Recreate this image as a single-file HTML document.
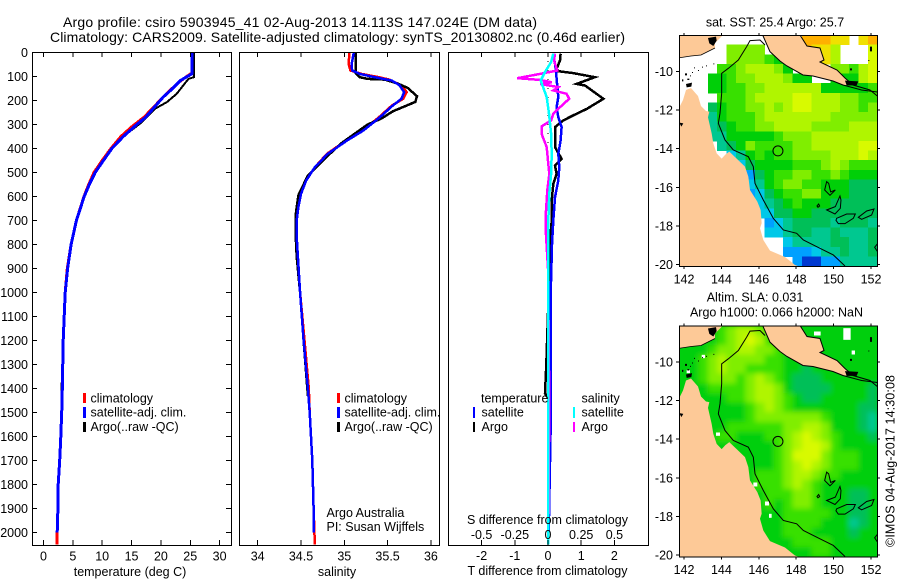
<!DOCTYPE html>
<html>
<head>
<meta charset="utf-8">
<title>Argo profile</title>
<style>
html,body{margin:0;padding:0;background:#fff;}
#chart{display:block;}
text{font-family:"Liberation Sans",sans-serif;font-size:12.5px;fill:#000;}
.title{font-size:14px;}
.frame{fill:none;stroke:#000;stroke-width:1;shape-rendering:crispEdges;}
.tick{stroke:#000;stroke-width:1;shape-rendering:crispEdges;}
.prof{fill:none;stroke-linejoin:miter;shape-rendering:crispEdges;}
</style>
</head>
<body>
<svg id="chart" xmlns="http://www.w3.org/2000/svg" width="900" height="580" viewBox="0 0 900 580">
<defs>
<clipPath id="clip-p1"><rect x="32" y="52" width="199" height="493"/></clipPath>
<clipPath id="clip-p2"><rect x="239" y="52" width="200" height="493"/></clipPath>
<clipPath id="clip-p3"><rect x="448" y="52" width="200" height="493"/></clipPath>
<clipPath id="clip-m1"><rect x="679.5" y="35" width="198" height="231"/></clipPath>
<clipPath id="clip-m2"><rect x="679.5" y="325.5" width="198" height="231"/></clipPath>
<filter id="soft" x="-5%" y="-5%" width="110%" height="110%"><feGaussianBlur stdDeviation="2.6"/></filter>
<g id="geo">
  <path d="M24,75 L159,75 L135,99 L135,114 L93,135 L63,138 L24,144 Z" fill="#fdc997"/>
  <path d="M24,300 L39,270 L48,240 L63,234 L84,258 L93,288 L108,303 L118,305 L114,322 L125,370 L130,400 L140,430 L155,446 L166,434 L178,425 L200,446 L225,470 L235,500 L240,540 L262,575 L272,600 L275,640 L270,655 L280,690 L300,722 L345,741 L375,765 L395,772 L24,772 Z" fill="#fdc997"/>
  <path d="M278,75 L390,75 L411,108 L450,114 L462,150 L450,156 L501,180 L525,204 L549,225 L519,225 L489,213 L429,198 L399,195 L351,168 L330,153 L300,125 Z" fill="#fdc997"/>
  <path d="M278,75 L300,125 L330,153 L351,168 L399,195 L429,198 L489,213 L519,225 L575,240 L622,246" fill="none" stroke="#000" stroke-width="3"/>
  <path d="M390,75 L411,108 L450,114 L462,150 L450,156 L501,180 L525,204 L549,225 L600,240 L622,258" fill="none" stroke="#000" stroke-width="3"/>
  <path d="M24,144 L63,138 L93,135 L135,114" fill="none" stroke="#000" stroke-width="2.5"/>
  <path d="M230,110 L205,150 L175,175 L155,190 L155,250 L150,310 L145,340 L165,390 L190,420 L235,440 L250,470 L255,520 L280,570 L310,625 L340,660 L380,670 L400,690 L450,715 L490,735 L525,768" fill="none" stroke="#000" stroke-width="3"/>
  <path d="M230,110 L240,92 L270,90 L285,105" fill="none" stroke="#000" stroke-width="3"/>
  <path d="M470,515 L464,540 L480,556 L496,540 L482,546 L476,520 Z M510,558 L496,590 L470,600 L495,612 L511,595 L513,570 Z M500,625 L530,612 L556,612 L550,625 L525,641 L505,641 L498,631 Z M565,622 L590,603 L612,597 L605,615 L575,628 Z M441,588 L446,582 L449,588 L444,592 Z M622,702 L614,712 L622,724" fill="none" stroke="#000" stroke-width="3"/>
  <path d="M114,84 L138,80 L140,92 L130,108 L118,100 Z M48,222 L66,218 L64,230 L50,232 Z M28,338 L40,340 L34,350 Z M525,212 L565,214 L560,226 L530,226 Z" fill="#000"/>
  <path d="M45,190 h6 v6 h-6 Z M60,196 h3 v3 h-3 Z M72,172 h3 v3 h-3 Z M84,180 h3 v3 h-3 Z M96,170 h3 v3 h-3 Z M108,166 h3 v3 h-3 Z M130,160 h3 v3 h-3 Z M52,206 h6 v4 h-6 Z M66,186 h3 v3 h-3 Z M36,208 h4 v6 h-4 Z M600,110 h6 v14 h-6 Z M540,175 h6 v6 h-6 Z M595,150 h3 v3 h-3 Z" fill="#000"/>
</g>
<g id="sla-patches" fill="#fff">
  <rect x="432" y="93" width="20" height="12"/><rect x="520" y="83" width="22" height="35"/>
  <rect x="95" y="163" width="10" height="10"/><rect x="250" y="546" width="12" height="12"/>
  <rect x="285" y="603" width="12" height="12"/><rect x="297" y="640" width="8" height="12"/>
  <rect x="138" y="396" width="12" height="10"/><rect x="50" y="208" width="10" height="10"/>
  <rect x="545" y="150" width="10" height="12"/>
</g>
</defs>
<rect x="0" y="0" width="900" height="580" fill="#fff"/>
<text class="title" x="63" y="27" textLength="474" lengthAdjust="spacing">Argo profile: csiro 5903945_41 02-Aug-2013 14.113S 147.024E (DM data)</text>
<text class="title" x="50" y="42" textLength="575" lengthAdjust="spacing">Climatology: CARS2009. Satellite-adjusted climatology: synTS_20130802.nc (0.46d earlier)</text>

<g id="panel-temp"></g>
<g id="panel-sal"></g>
<g id="panel-diff"></g>

<text x="130" y="576" text-anchor="middle">temperature (deg C)</text>
<text x="337" y="576" text-anchor="middle">salinity</text>
<text x="547.5" y="575" text-anchor="middle">T difference from climatology</text>
<text x="547.5" y="524" text-anchor="middle">S difference from climatology</text>

<g>
  <rect x="83" y="393" width="3" height="10" fill="#f00"/><text x="90.5" y="402.5">climatology</text>
  <rect x="83" y="407" width="3" height="11" fill="#00f"/><text x="90.5" y="416.5">satellite-adj. clim.</text>
  <rect x="83" y="422" width="3" height="10" fill="#000"/><text x="90.5" y="431">Argo(..raw -QC)</text>
</g>
<g>
  <rect x="337" y="393" width="3" height="10" fill="#f00"/><text x="344.5" y="402.5">climatology</text>
  <rect x="337" y="407" width="3" height="11" fill="#00f"/><text x="344.5" y="416.5">satellite-adj. clim.</text>
  <rect x="337" y="422" width="3" height="10" fill="#000"/><text x="344.5" y="431">Argo(..raw -QC)</text>
</g>
<g>
  <text x="326.5" y="517">Argo Australia</text>
  <text x="326.5" y="531">PI: Susan Wijffels</text>
</g>
<g>
  <text x="481" y="402.5">temperature</text>
  <rect x="473" y="407" width="2" height="11" fill="#00f"/><text x="481.5" y="416.5">satellite</text>
  <rect x="473" y="422" width="2" height="10" fill="#000"/><text x="481.5" y="431">Argo</text>
  <text x="581.5" y="402.5">salinity</text>
  <rect x="573" y="407" width="2" height="11" fill="#0ff"/><text x="581.5" y="416.5">satellite</text>
  <rect x="573" y="422" width="2" height="10" fill="#f0f"/><text x="581.5" y="431">Argo</text>
</g>

<g id="map-sst"></g>
<g id="map-sla"></g>

<text x="775" y="26.5" text-anchor="middle">sat. SST: 25.4  Argo: 25.7</text>
<text x="755" y="301.5" text-anchor="middle">Altim. SLA: 0.031</text>
<text x="776.5" y="316.5" text-anchor="middle">Argo h1000: 0.066 h2000: NaN</text>
<text transform="translate(894.5,547) rotate(-90)" textLength="172" lengthAdjust="spacing">©IMOS 04-Aug-2017 14:30:08</text>
</svg>

<script>
// ---- axis tick labels ----
const depthTicks = [0,100,200,300,400,500,600,700,800,900,1000,1100,1200,1300,1400,1500,1600,1700,1800,1900,2000];
const tempTicks = [0,5,10,15,20,25,30];
const salTicks = [34,34.5,35,35.5,36];
const salTickLabels = ['34','34.5','35','35.5','36'];
const tDiffTicks = [-2,-1,0,1,2];
const tDiffLabels = ['-2','-1','0','1','2'];
const sDiffTicks = [-0.5,-0.25,0,0.25,0.5];
const sDiffLabels = ['-0.5','-0.25','0','0.25','0.5'];
const lonTicks = [142,144,146,148,150,152];
const latTicks = [-10,-12,-14,-16,-18,-20];

// ---- temperature profiles ----
const tempClimDepth = [0,85,117,150,190,230,270,310,350,400,450,500,550,600,700,800,900,1000,1200,1400,1500,1600,1700,1800,1900,2000,2050];
const tempClim = [25.3,25.3,23.4,21.9,20.2,18.7,17.1,15.0,13.2,11.5,10.0,8.6,7.7,6.9,5.6,4.7,4.05,3.7,3.35,3.2,3.1,2.95,2.76,2.5,2.45,2.33,2.3];
const tempSatDepth = [0,88,117,150,186,230,270,300,350,400,450,500,550,600,700,800,900,1000,1200,1400,1500,1600,1700,1800,1900,2000];
const tempSat = [25.33,25.33,23.3,22.0,20.4,18.8,17.4,15.9,13.6,11.65,10.2,8.8,7.8,6.93,5.6,4.7,4.1,3.7,3.35,3.2,3.1,2.95,2.76,2.5,2.45,2.33];
const tempArgoDepth = [0,103,110,128,172,207,234,270,295,350,400,450,500,600,700,800,900,1000,1200,1430];
const tempArgo = [25.6,25.6,24.7,24.1,22.7,21.0,19.0,17.6,16.5,13.6,11.7,10.2,8.8,6.95,5.6,4.7,4.1,3.7,3.3,3.05];

// ---- salinity profiles ----
const salClimDepth = [0,47,75,89,103,113,137,165,193,221,270,325,367,422,478,533,589,644,700,770,1000,1200,1400,1500,1700,1900,2000,2050];
const salClim = [35.06,35.05,35.07,35.2,35.4,35.52,35.66,35.72,35.68,35.55,35.4,35.21,35.02,34.8,34.66,34.56,34.5,34.47,34.45,34.45,34.49,34.54,34.59,34.6,34.63,34.645,34.655,34.66];
const salSatDepth = [0,47,75,89,103,117,137,165,193,221,270,325,367,422,478,533,589,644,700,770,1000,1200,1400,1500,1700,1900,2000];
const salSat = [35.11,35.085,35.09,35.18,35.35,35.55,35.64,35.69,35.66,35.56,35.41,35.22,35.03,34.81,34.66,34.56,34.5,34.47,34.45,34.45,34.49,34.53,34.58,34.6,34.63,34.645,34.65];
const salArgoDepth = [0,85,103,110,113,130,147,182,206,224,245,275,300,328,377,440,512,595,672,770,850,1000,1200,1430];
const salArgo = [35.13,35.13,35.18,35.27,35.47,35.62,35.73,35.84,35.82,35.7,35.56,35.43,35.27,35.16,34.97,34.78,34.58,34.47,34.44,34.44,34.45,34.49,34.53,34.58];

// ---- difference profiles ----
const diffTArgoDepth = [5,33,68,78,86,103,131,138,193,235,262,283,311,353,394,443,471,506,547,617,700,800,1000,1300,1420,1440,2050];
const diffTArgo = [0.38,0.36,0.26,0.31,0.76,1.41,0.86,1.12,1.67,1.17,0.76,0.46,0.21,0.21,0.21,0.41,0.21,0.26,0.16,0.11,0.11,0.05,0.02,-0.05,-0.09,0,0];
const diffTSatDepth = [5,47,75,110,186,228,269,311,367,422,478,533,603,700,800,1000,1400,1550,2000];
const diffTSat = [0.16,0.21,0.24,0.26,0.31,0.26,0.31,0.41,0.38,0.31,0.34,0.31,0.21,0.16,0.12,0.08,0.08,0.08,0.02];
const diffSArgoDepth = [5,33,75,89,107,114,124,131,144,158,172,193,228,255,283,308,339,394,464,506,575,686,760,900,1450,2050];
const diffSArgo = [0.053,0.045,0.07,-0.06,-0.231,-0.06,0.028,-0.06,0.078,0.04,0.14,0.16,0.09,0.04,0.023,-0.048,-0.048,-0.01,0.002,0.01,-0.005,-0.018,-0.015,0,0.01,0.002];
const diffSSatDepth = [5,40,82,117,186,255,338,422,506,589,700,1000,2050];
const diffSSat = [0.04,0.023,-0.023,-0.055,-0.01,0.0075,0.023,0.028,0.023,0.01,0.002,0.002,0.002];

// ---- map grids: 0.5 degree cells, north to south; '.' = no data ----
const sstRows = [
".............bbbaa.ab",
".....7777....baa8...9",
".....777765...aa8...9",
"....66788875....77689",
"...55677888755..55589",
"...556677888888555556",
"....66678888998887766",
"...456677878998887767",
"...356667888888877777",
"...345667788887777888",
"...335555567778888888",
"....34576666778888899",
".....2356566777788898",
"......245555666787666",
".......14566776676555",
".......23567766555444",
".......12456677555444",
"........2345655544444",
"........2244554444444",
".........123444434443",
".........223443343334",
"...........2333344334",
"...........1112334334",
"............100113333"
];
const slaRows = [
"555567887555555555555",
"555567898655555555555",
"555677887765555555555",
"556787777665555555555",
"556787766665545555555",
"556777678765444555555",
"555666678875444455554",
"555556678876544555554",
"555555567876555555544",
"555555567777777655543",
"555556666667788755543",
"555566555667898765554",
"555555555567899865555",
"555555555567999766655",
"555555555567898766655",
"555555556667887665555",
"555555556667876555555",
"555555555666776555445",
"555555555656776555445",
"555555555556666655445",
"555555555556666555345",
"555555555556665555455",
"555555555555666655555",
"555555555555556655555"
];
const argoLon = [147.024];
const argoLat = [-14.113];

// ---- axis functions ----
const NS = 'http://www.w3.org/2000/svg';
const yDepth = d => 52.5 + d * 0.24;
const xTemp = v => 43.5 + v * 5.87;
const xSal = v => 257.7 + (v - 34) * 86.6;
const xDiffT = v => 548 + v * 33.2;
const xDiffS = v => 548 + v * 132.8;
const xLon = v => 684 + (v - 142) * 18.7;
const yLat1 = v => 71.5 + (-10 - v) * 19.3;
const yLat2 = v => 362 + (-10 - v) * 19.3;

function mk(tag, parent, attrs) {
  const el = document.createElementNS(NS, tag);
  for (const k in attrs) el.setAttribute(k, attrs[k]);
  parent.appendChild(el);
  return el;
}
function label(parent, x, y, txt, anchor, name) {
  const t = mk('text', parent, {x: x, y: y, 'text-anchor': anchor});
  t.textContent = txt;
  
  
  return t;
}
function tick(parent, x1, y1, x2, y2) {
  const l = mk('line', parent, {x1: x1, y1: y1, x2: x2, y2: y2, class: 'tick'});
  
  
}
function frame(parent, x, y, w, h) {
  const r = mk('rect', parent, {x: x + 0.5, y: y + 0.5, width: w, height: h, class: 'frame'});
  
  
}
function profile(parent, clip, name, depths, vals, xf, color, width) {
  const pts = depths.map((d, i) => xf(vals[i]).toFixed(1) + ',' + yDepth(d).toFixed(1)).join(' ');
  const p = mk('polyline', parent, {points: pts, class: 'prof', stroke: color, 'stroke-width': width, 'clip-path': 'url(#' + clip + ')'});
  
  
}

// ---- temperature panel ----
const g1 = document.getElementById('panel-temp');
profile(g1, 'clip-p1', 'temperature-climatology-line', tempClimDepth, tempClim, xTemp, '#f00', 3);
profile(g1, 'clip-p1', 'temperature-argo-line', tempArgoDepth, tempArgo, xTemp, '#000', 2);
profile(g1, 'clip-p1', 'temperature-satellite-line', tempSatDepth, tempSat, xTemp, '#00f', 3);
frame(g1, 32, 52, 199, 493);
depthTicks.forEach(d => {
  tick(g1, 32, yDepth(d), 37, yDepth(d));
  tick(g1, 226, yDepth(d), 231, yDepth(d));
  label(g1, 28, yDepth(d) + 4.5, String(d), 'end', 'depth-tick-label');
});
tempTicks.forEach(v => {
  tick(g1, xTemp(v), 52, xTemp(v), 57);
  tick(g1, xTemp(v), 540, xTemp(v), 545);
  label(g1, xTemp(v), 560.5, String(v), 'middle', 'temperature-tick-label');
});

// ---- salinity panel ----
const g2 = document.getElementById('panel-sal');
profile(g2, 'clip-p2', 'salinity-climatology-line', salClimDepth, salClim, xSal, '#f00', 2.5);
profile(g2, 'clip-p2', 'salinity-argo-line', salArgoDepth, salArgo, xSal, '#000', 2.5);
profile(g2, 'clip-p2', 'salinity-satellite-line', salSatDepth, salSat, xSal, '#00f', 2.5);
frame(g2, 239, 52, 200, 493);
salTicks.forEach((v, i) => {
  tick(g2, xSal(v), 52, xSal(v), 57);
  tick(g2, xSal(v), 540, xSal(v), 545);
  label(g2, xSal(v), 560.5, salTickLabels[i], 'middle', 'salinity-tick-label');
});

// ---- difference panel ----
const g3 = document.getElementById('panel-diff');
const zero = mk('line', g3, {x1: xDiffT(0), y1: 52, x2: xDiffT(0), y2: 545, stroke: '#000', 'stroke-width': 1, 'stroke-dasharray': '1 8', 'shape-rendering': 'crispEdges'});


profile(g3, 'clip-p3', 't-difference-argo-line', diffTArgoDepth, diffTArgo, xDiffT, '#000', 2.5);
profile(g3, 'clip-p3', 't-difference-satellite-line', diffTSatDepth, diffTSat, xDiffT, '#00f', 2.5);
profile(g3, 'clip-p3', 's-difference-argo-line', diffSArgoDepth, diffSArgo, xDiffS, '#f0f', 2.5);
profile(g3, 'clip-p3', 's-difference-satellite-line', diffSSatDepth, diffSSat, xDiffS, '#0ff', 2.5);
frame(g3, 448, 52, 200, 493);
tDiffTicks.forEach((v, i) => {
  tick(g3, xDiffT(v), 52, xDiffT(v), 57);
  tick(g3, xDiffT(v), 540, xDiffT(v), 545);
  label(g3, xDiffT(v), 560, tDiffLabels[i], 'middle', 't-difference-tick-label');
});
sDiffTicks.forEach((v, i) => {
  label(g3, xDiffS(v), 539, sDiffLabels[i], 'middle', 's-difference-tick-label');
});

// ---- maps ----
const cellColors = {'0':'#0038d0','1':'#00a0ff','2':'#00c8e8','3':'#00c890','4':'#00bf58','5':'#00cf08','6':'#38e000','7':'#80ee00','8':'#b0f500','9':'#d8fa00','a':'#f0e000','b':'#ffb000'};
function drawMap(root, clip, top, rows, yLat, name, smooth, base) {
  const holder = mk('g', root, {'clip-path': 'url(#' + clip + ')'});
  
  
  const bg = mk('rect', holder, {x: 679.5, y: top, width: 198, height: 231, fill: base});
  
  
  const cells = mk('g', holder, smooth ? {filter: 'url(#soft)'} : {});
  
  
  const cw = 198 / rows[0].length, ch = 231 / rows.length;
  rows.forEach((row, r) => {
    for (let c = 0; c < row.length; c++) {
      if (row[c] === '.') continue;
      const cell = mk('rect', cells, {x: (679.5 + c * cw).toFixed(2), y: (top + r * ch).toFixed(2), width: (cw + 0.5).toFixed(2), height: (ch + 0.5).toFixed(2), fill: cellColors[row[c]], 'shape-rendering': 'crispEdges'});
      
      
    }
  });
  if (smooth) {
    const patches = mk('use', holder, {href: '#sla-patches', transform: 'translate(670,' + (top - 25) + ') scale(0.3333)'});
    
    
  }
  const geo = mk('use', holder, {href: '#geo', transform: 'translate(670,' + (top - 25) + ') scale(0.3333)'});
  
  
  argoLon.forEach((lon, i) => {
    const m = mk('circle', holder, {cx: xLon(lon), cy: yLat(argoLat[i]), r: 5, fill: 'none', stroke: '#000', 'stroke-width': 1});
    
    
  });
  frame(root, 679, top, 198, 231);
  lonTicks.forEach(v => {
    tick(root, xLon(v), top - 2, xLon(v), top);
    tick(root, xLon(v), top + 231, xLon(v), top + 234);
    label(root, xLon(v), top + 248.5, String(v), 'middle', 'longitude-tick-label');
  });
  latTicks.forEach(v => {
    tick(root, 676, yLat(v), 679, yLat(v));
    tick(root, 877, yLat(v), 880, yLat(v));
    label(root, 673, yLat(v) + 4.5, String(v), 'end', 'latitude-tick-label');
  });
}
drawMap(document.getElementById('map-sst'), 'clip-m1', 35, sstRows, yLat1, 'sst', false, '#fff');
drawMap(document.getElementById('map-sla'), 'clip-m2', 325.5, slaRows, yLat2, 'sla', true, '#00cf08');
</script>
</body>
</html>
